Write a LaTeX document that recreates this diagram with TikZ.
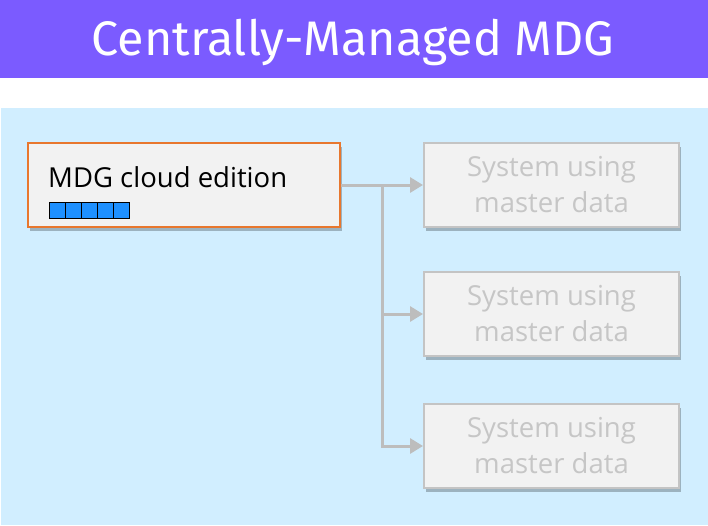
\documentclass[tikz,border=0pt]{standalone}
\usepackage{fontspec}
\setmainfont{Fira Sans}
\newfontfamily\boxfont{Open Sans}
\usetikzlibrary{arrows.meta,shadows}
\definecolor{titlebg}{HTML}{7B5BFF}
\definecolor{panelbg}{HTML}{D1EEFF}
\definecolor{boxfill}{HTML}{F2F2F2}
\definecolor{srcborder}{HTML}{E8772E}
\definecolor{graybd}{HTML}{C4C4C4}
\definecolor{graytxt}{HTML}{C6C6C6}
\definecolor{conn}{HTML}{BDBDBD}
\definecolor{cell}{HTML}{1E90FF}
\tikzset{
  srcbox/.style={draw=srcborder, line width=1.6pt, fill=boxfill, minimum width=312pt, minimum height=84pt,
    drop shadow={shadow xshift=2pt, shadow yshift=-4pt, opacity=0.25, fill=black}},
  sysbox/.style={draw=graybd, line width=2pt, fill=boxfill, minimum width=255pt, minimum height=84pt,
    text=graytxt, align=center, font=\boxfont\fontsize{27.5}{36}\selectfont, inner sep=0pt,
    drop shadow={shadow xshift=2pt, shadow yshift=-4pt, opacity=0.25, fill=black}},
  link/.style={draw=conn, line width=3pt, -{Triangle[length=13pt,width=15pt]}},
  cellbox/.style={draw=black, line width=1pt, fill=cell, minimum width=16pt, minimum height=16pt, inner sep=0pt}
}
\begin{document}
\begin{tikzpicture}[x=1pt,y=-1pt]
\useasboundingbox (0,0) rectangle (708,525);
\fill[titlebg] (0,0) rectangle (708,78);
\fill[white] (0,78) rectangle (708,108);
\fill[panelbg] (1,108) rectangle (708,525);
\node[text=white, font=\fontsize{48.5}{54}\selectfont] (title) at (353,42) {Centrally-Managed MDG};
\node[srcbox] (src) at (184,185) {};
\node[anchor=base west, font=\boxfont\fontsize{27.5}{30}\selectfont, inner sep=0pt] (srclbl) at (48,187) {MDG cloud edition};
\foreach \i in {0,...,4} {
  \node[cellbox] (c\i) at (57+16*\i,210) {};
}
\node[sysbox] (t1) at (551.5,185) {System using\\master data};
\node[sysbox] (t2) at (551.5,314) {System using\\master data};
\node[sysbox] (t3) at (551.5,446) {System using\\master data};
\coordinate (j1) at (382,185);
\draw[link] (src.east) -- (t1.west);
\draw[link] (j1) |- (t2.west);
\draw[link] (j1) |- (t3.west);
\end{tikzpicture}
\end{document}
